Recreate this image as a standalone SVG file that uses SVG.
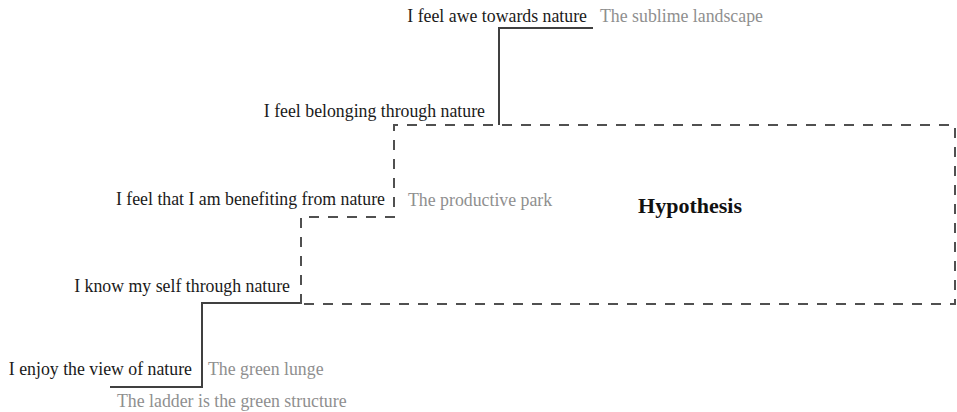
<svg xmlns="http://www.w3.org/2000/svg" width="957" height="412" viewBox="0 0 957 412">
<style>
text{font-family:"Liberation Serif","Times New Roman",serif;font-size:17.8px}
.b{fill:#1a1a1a}
.g{fill:#8f8f8f}
.end{text-anchor:end}
.solid{fill:none;stroke:#404040;stroke-width:2}
.dash{fill:none;stroke:#505050;stroke-width:2;stroke-dasharray:10 9}
</style>
<rect width="957" height="412" fill="#ffffff"/>
<g id="connectors">
<path class="solid" d="M110 387 H202 V303 H301"/>
<path class="solid" d="M499 125 V28 H593"/>
<path class="dash" d="M301 304 V217 H394 V125 H955 V304 H301"/>
</g>
<g id="hypothesis"><text x="690" y="213" text-anchor="middle" style="font-size:22px;font-weight:bold" fill="#111">Hypothesis</text></g>
<g id="awe"><text class="b end" x="587" y="22">I feel awe towards nature</text></g>
<g id="sublime"><text class="g" x="600" y="22">The sublime landscape</text></g>
<g id="belonging"><text class="b end" x="485" y="117">I feel belonging through nature</text></g>
<g id="benefiting"><text class="b end" x="385" y="205">I feel that I am benefiting from nature</text></g>
<g id="productive"><text class="g" x="408" y="206">The productive park</text></g>
<g id="knowself"><text class="b end" x="290" y="292">I know my self through nature</text></g>
<g id="enjoy"><text class="b end" x="192" y="375">I enjoy the view of nature</text></g>
<g id="lunge"><text class="g" x="208" y="375">The green lunge</text></g>
<g id="ladder"><text class="g" x="117" y="407">The ladder is the green structure</text></g>
</svg>
